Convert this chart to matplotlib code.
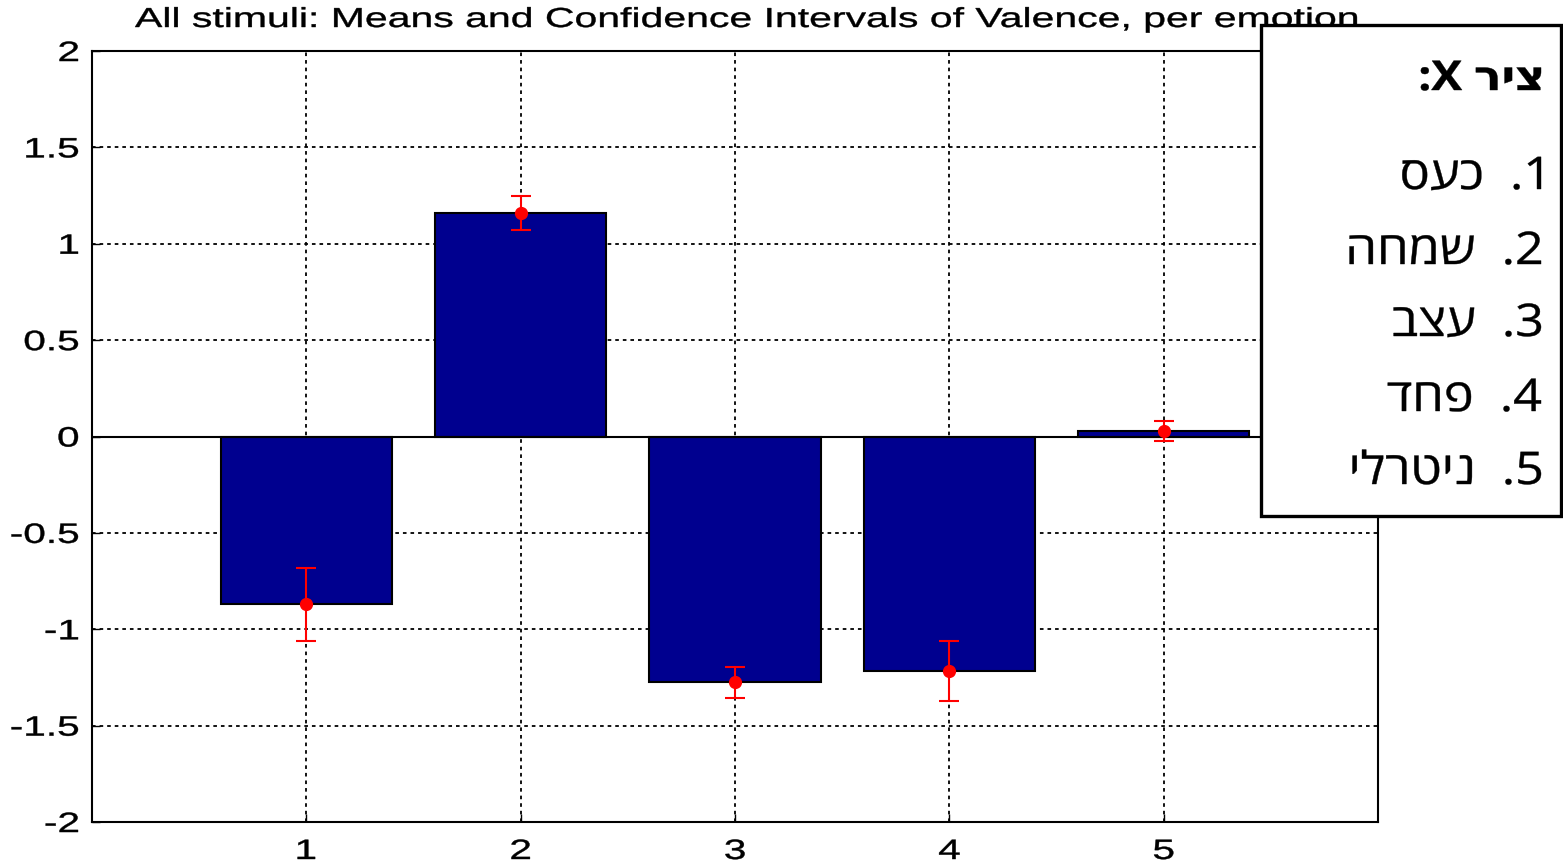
import matplotlib
matplotlib.use("Agg")
from matplotlib import pyplot as plt
from matplotlib.patches import Rectangle, PathPatch
from matplotlib.textpath import TextPath
from matplotlib.font_manager import FontProperties
from matplotlib.transforms import Affine2D

# data
emotions = [1, 2, 3, 4, 5]
means = [-0.87, 1.16, -1.275, -1.215, 0.028]
ci = [0.19, 0.09, 0.08, 0.155, 0.05]
labels_he = ["כעס", "שמחה", "עצב", "פחד", "ניטרלי"]
axis_title_he = "ציר"
yticks = [-2, -1.5, -1, -0.5, 0, 0.5, 1, 1.5, 2]
title = "All stimuli: Means and Confidence Intervals of Valence, per emotion"

W, H = 1563, 862
fig = plt.figure(figsize=(W / 100, H / 100), dpi=100)
ax = fig.add_axes([92 / W, 39 / H, (1378 - 92) / W, (823 - 52) / H])

arial = FontProperties(family=['Liberation Sans', 'DejaVu Sans'])
heb = FontProperties(family=['Open Sans', 'DejaVu Sans'])
heb_bold = FontProperties(family=['Open Sans', 'DejaVu Sans'], weight='bold')


# text drawn as a path, so it can be stretched sideways like in the picture
def wide_text(s, x, y, size, sx, prop, ha="center", zorder=5):
    tp = TextPath((0, 0), s, size=size, prop=prop)
    ext = tp.get_extents()
    if ha == "center":
        dx = -(ext.x0 + ext.x1) / 2
    elif ha == "right":
        dx = -ext.x1
    else:
        dx = -ext.x0
    tr = Affine2D().translate(dx, 0).scale(sx, 1).translate(x, y)
    p = PathPatch(tp, transform=tr, facecolor="black", edgecolor="black",
                  linewidth=0.3, zorder=zorder)
    fig.add_artist(p)


#绘图
ax.bar(emotions, means, width=0.8, color="#00008f", edgecolor="black", linewidth=1.5, zorder=3)
ax.axhline(0, color="black", linewidth=1.5, zorder=4)
ax.errorbar(emotions, means, yerr=ci, fmt="o", color="red", ecolor="red",
            markersize=8.5, elinewidth=1.5, capsize=7.2, capthick=1.5, zorder=5)

ax.set_xlim(0, 6)
ax.set_ylim(-2, 2)
ax.set_xticks(emotions)
ax.set_yticks(yticks)
ax.tick_params(labelleft=False, labelbottom=False, direction="in", length=6, width=1)
ax.grid(True, linestyle=(0, (2, 2.2)), color="black", linewidth=1.3, zorder=0)
ax.set_axisbelow(True)
for s in ax.spines.values():
    s.set_linewidth(1.5)

# tick labels
tick_size = 28
tick_sx = 1.45
for v in yticks:
    px, py = ax.transData.transform((0, v))
    wide_text("%g" % v, px - 14, py - 0.358 * tick_size, tick_size, tick_sx, arial, ha="right")
for v in emotions:
    px, py = ax.transData.transform((v, -2))
    wide_text("%d" % v, px, 2, tick_size, tick_sx, arial, ha="center")

# title
wide_text(title, 746, H - 28, 27.5, 1.49, arial, ha="center", zorder=5)

# legend box (Hebrew, in visual order)
box = Rectangle((1261 / W, (H - 517) / H), 300 / W, (517 - 26) / H,
                transform=fig.transFigure, facecolor="white", edgecolor="black",
                linewidth=2.4, zorder=10)
fig.add_artist(box)

wide_text(":X " + axis_title_he[::-1], 1541, H - 91, 41, 1.12, heb_bold, ha="right", zorder=11)
base = [190, 265, 337, 412, 485]
for i, w in enumerate(labels_he):
    wide_text(w[::-1] + "  .%d" % (i + 1), 1541, H - base[i], 45, 1.12, heb, ha="right", zorder=11)

plt.savefig("out.png", dpi=100)
